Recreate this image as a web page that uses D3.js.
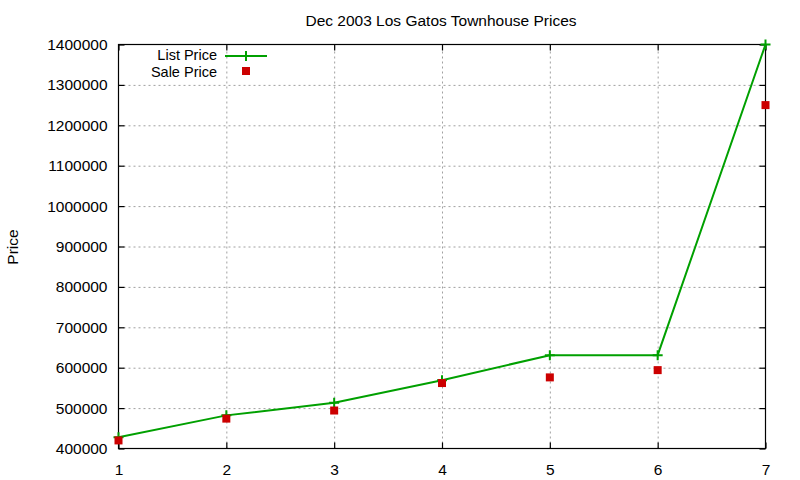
<!DOCTYPE html>
<html>
<head>
<meta charset="utf-8">
<script src="https://cdn.jsdelivr.net/npm/d3@7"></script>
<style>
  body { margin: 0; background: #fff; }
  svg { display: block; font-family: 'Liberation Sans', Arial, sans-serif; }
  .axis path { display: none; }
  .axis text { font-size: 15.5px; fill: #000; }
  .grid line { stroke: #a0a0a0; stroke-dasharray: 2,3; }
  .grid path { display: none; }
</style>
</head>
<body>
<div id="chart"></div>
<script>
const houses = [1, 2, 3, 4, 5, 6, 7];
const listPrice = [428000, 482000, 513000, 569000, 631000, 631000, 1400000];
const salePrice = [420000, 474000, 494000, 562000, 576000, 594000, 1250000];
const xTicks = [1, 2, 3, 4, 5, 6, 7];
const yTicks = [400000, 500000, 600000, 700000, 800000, 900000, 1000000, 1100000, 1200000, 1300000, 1400000];

const canvasWidth = 800;
const canvasHeight = 480;
const margins = { top: 44.5, left: 118.5 };
const width = 765.5 - margins.left;
const height = 448.5 - margins.top;

const svg = d3.select('#chart')
  .append('svg')
    .attr('width', canvasWidth)
    .attr('height', canvasHeight);

const plot = svg.append('g')
  .attr('transform', `translate(${margins.left}, ${margins.top})`);

const scaleX = d3.scaleLinear().domain([1, 7]).range([0, width]);
const scaleY = d3.scaleLinear().domain([400000, 1400000]).range([height, 0]);

// grid
plot.append('g')
  .attr('class', 'grid')
  .attr('transform', `translate(0, ${height})`)
  .call(d3.axisBottom(scaleX).tickValues(xTicks.slice(1, -1)).tickSize(-height).tickFormat(''));
plot.append('g')
  .attr('class', 'grid')
  .call(d3.axisLeft(scaleY).tickValues(yTicks.slice(1, -1)).tickSize(-width).tickFormat(''));

// border
plot.append('rect')
  .attr('width', width)
  .attr('height', height)
  .attr('fill', 'none')
  .attr('stroke', '#000')
  .attr('stroke-width', 1.2);

// axes with inward ticks, mirrored
const tickStyle = g => g.selectAll('.tick line').attr('stroke', '#000').attr('stroke-width', 1.2);
plot.append('g')
  .attr('class', 'axis')
  .attr('transform', `translate(0, ${height})`)
  .call(d3.axisBottom(scaleX).tickValues(xTicks).tickSize(-6).tickPadding(15).tickFormat(d3.format('d')))
  .call(tickStyle);
plot.append('g')
  .attr('class', 'axis')
  .call(d3.axisTop(scaleX).tickValues(xTicks).tickSize(-6).tickFormat(''))
  .call(tickStyle);
plot.append('g')
  .attr('class', 'axis')
  .call(d3.axisLeft(scaleY).tickValues(yTicks).tickSize(-6).tickPadding(11).tickFormat(d3.format('d')))
  .call(tickStyle);
plot.append('g')
  .attr('class', 'axis')
  .attr('transform', `translate(${width}, 0)`)
  .call(d3.axisRight(scaleY).tickValues(yTicks).tickSize(-6).tickFormat(''))
  .call(tickStyle);

// list price line
const line = d3.line()
  .x((d, i) => scaleX(houses[i]))
  .y(d => scaleY(d));

plot.append('path')
  .datum(listPrice)
  .attr('fill', 'none')
  .attr('stroke', '#00a000')
  .attr('stroke-width', 2)
  .attr('d', line);

const plusPath = 'M-5,0H5M0,-5V5';
plot.selectAll('.list-point')
  .data(listPrice)
  .enter()
  .append('path')
    .attr('transform', (d, i) => `translate(${scaleX(houses[i])}, ${scaleY(d)})`)
    .attr('d', plusPath)
    .attr('stroke', '#00a000')
    .attr('stroke-width', 2);

// sale price points
plot.selectAll('.sale-point')
  .data(salePrice)
  .enter()
  .append('rect')
    .attr('x', (d, i) => scaleX(houses[i]) - 4)
    .attr('y', d => scaleY(d) - 4)
    .attr('width', 8)
    .attr('height', 8)
    .attr('fill', '#cc0000');

// title and y label
svg.append('text')
  .attr('x', 441)
  .attr('y', 26)
  .attr('text-anchor', 'middle')
  .style('font-size', '15.5px')
  .text('Dec 2003 Los Gatos Townhouse Prices');

svg.append('text')
  .attr('transform', 'translate(18, 247) rotate(-90)')
  .attr('text-anchor', 'middle')
  .style('font-size', '15.5px')
  .text('Price');

// legend
const legend = svg.append('g').style('font-size', '14.5px');
legend.append('text')
  .attr('x', 217).attr('y', 60)
  .attr('text-anchor', 'end')
  .text('List Price');
legend.append('line')
  .attr('x1', 225).attr('x2', 267).attr('y1', 56).attr('y2', 56)
  .attr('stroke', '#00a000').attr('stroke-width', 2);
legend.append('path')
  .attr('transform', 'translate(246, 56)')
  .attr('d', plusPath)
  .attr('stroke', '#00a000').attr('stroke-width', 2);
legend.append('text')
  .attr('x', 217).attr('y', 77)
  .attr('text-anchor', 'end')
  .text('Sale Price');
legend.append('rect')
  .attr('x', 242).attr('y', 67).attr('width', 8).attr('height', 8)
  .attr('fill', '#cc0000');
</script>
</body>
</html>
